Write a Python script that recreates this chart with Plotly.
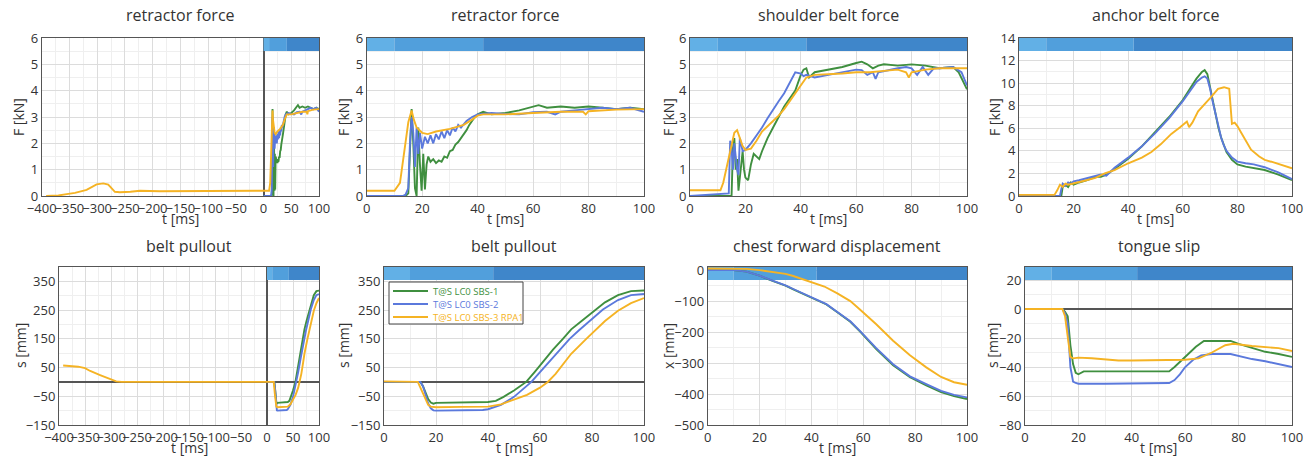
import plotly.graph_objects as go

# ---------------- data ----------------
# retractor force [kN] (0..100 ms)
ret_t_g = [0, 14, 15, 15.6, 16.2, 16.8, 17.4, 18.0, 18.6, 19.2,
           19.8, 20.4, 21.0, 21.6, 22.2, 23, 24, 25, 26, 27,
           28, 29, 30, 31, 32, 33, 34, 35, 36, 37,
           38, 39, 40, 42, 45, 50, 55, 60, 62, 65,
           70, 75, 80, 85, 90, 95, 100]
ret_f_g = [0, 0, 0.1, 1.8, 3.3, 2.0, 0.3, 0.0, 2.6, 1.2,
           0.2, 1.6, 0.25, 1.2, 1.5, 1.3, 1.4, 1.25, 1.35, 1.3,
           1.5, 1.45, 1.7, 1.75, 1.95, 2.05, 2.2, 2.35, 2.5, 2.7,
           2.85, 3.0, 3.1, 3.2, 3.1, 3.15, 3.25, 3.4, 3.45, 3.35,
           3.4, 3.35, 3.4, 3.35, 3.3, 3.35, 3.3]
ret_t_b = [0, 13, 14, 15, 15.6, 16.2, 16.8, 17.4, 18.0, 18.6,
           19.2, 20, 21, 22, 23, 24, 25, 26, 27, 28,
           29, 30, 31, 32, 33, 34, 36, 38, 40, 45,
           50, 55, 60, 65, 68, 70, 75, 80, 85, 90,
           95, 100]
ret_f_b = [0, 0, 0.05, 0.3, 2.0, 3.0, 2.4, 1.1, 2.6, 1.6,
           2.4, 1.8, 2.25, 2.0, 2.3, 2.0, 2.35, 2.15, 2.45, 2.2,
           2.5, 2.3, 2.6, 2.45, 2.7, 2.6, 2.85, 3.0, 3.1, 3.15,
           3.12, 3.1, 3.18, 3.2, 3.1, 3.2, 3.25, 3.3, 3.35, 3.3,
           3.35, 3.2]
ret_t_y = [0, 10, 12, 14, 15, 16.2, 17, 18, 20, 22,
           25, 30, 35, 38, 40, 42, 50, 60, 70, 78,
           79, 80, 90, 100]
ret_f_y = [0.2, 0.2, 0.5, 2.0, 2.8, 3.25, 2.9, 2.6, 2.4, 2.35,
           2.45, 2.55, 2.7, 2.9, 3.05, 3.1, 3.1, 3.15, 3.2, 3.2,
           3.1, 3.22, 3.28, 3.3]
# pre-crash part of the RPA1 retractor force (-400..0 ms)
ret_pre_t_y = [-392, -370, -355, -340, -319, -301, -289, -280, -268, -259,
               -240, -223, -187, -150, -100, -50, -1]
ret_pre_f_y = [0, 0.02, 0.07, 0.12, 0.23, 0.44, 0.48, 0.43, 0.16, 0.14,
               0.16, 0.2, 0.18, 0.18, 0.18, 0.18, 0.2]

# shoulder belt force [kN]
sh_t_g = [0, 15, 15.5, 16, 16.5, 17, 17.5, 18, 19, 19.5,
          20, 21, 22, 23, 24, 25, 26, 28, 30, 32,
          34, 36, 38, 40, 41, 42, 43, 45, 50, 55,
          60, 62, 64, 66, 68, 70, 75, 80, 85, 90,
          95, 97, 100]
sh_f_g = [0, 0, 1.8, 2.2, 1.0, 1.4, 0.2, 0.8, 1.7, 1.0,
          0.7, 0.6, 1.2, 1.6, 1.5, 1.4, 1.7, 2.2, 2.6, 3.0,
          3.4, 3.7, 4.0, 4.6, 4.8, 4.85, 4.5, 4.7, 4.8, 4.9,
          5.05, 5.1, 5.0, 4.85, 4.95, 5.0, 4.95, 5.0, 4.95, 4.85,
          4.9, 4.7, 4.05]
sh_t_b = [0, 14, 14.5, 15, 15.5, 16, 17, 17.5, 18, 19,
          20, 22, 24, 26, 28, 30, 32, 34, 36, 38,
          40, 41, 42, 45, 50, 55, 60, 62, 64, 66,
          67, 68, 70, 75, 78, 80, 82, 84, 86, 88,
          90, 95, 98, 100]
sh_f_b = [0, 0.1, 2.1, 1.8, 1.0, 2.0, 1.0, 0.8, 2.2, 1.7,
          1.75, 2.0, 2.3, 2.6, 2.95, 3.3, 3.6, 3.9, 4.3, 4.7,
          4.65, 4.55, 4.6, 4.5, 4.6, 4.7, 4.8, 4.78, 4.6, 4.7,
          4.45, 4.7, 4.75, 4.85, 4.9, 4.85, 4.6, 4.9, 4.6, 4.85,
          4.85, 4.9, 4.7, 4.2]
sh_t_y = [0, 11, 12, 14, 15, 16, 17, 18, 19, 20,
          22, 24, 26, 28, 30, 32, 34, 36, 38, 40,
          42, 45, 50, 55, 60, 65, 70, 75, 78, 79,
          80, 85, 90, 95, 100]
sh_f_y = [0.22, 0.22, 0.5, 1.5, 2.0, 2.4, 2.5, 2.2, 1.9, 1.75,
          1.8, 2.1, 2.45, 2.65, 2.85, 3.05, 3.3, 3.6, 3.9, 4.2,
          4.5, 4.6, 4.62, 4.65, 4.7, 4.7, 4.75, 4.8, 4.7, 4.5,
          4.7, 4.8, 4.85, 4.85, 4.85]

# anchor belt force [kN]
an_t_g = [0, 15.5, 16, 17, 18, 19, 20, 22, 25, 28,
          30, 32, 35, 40, 45, 50, 55, 60, 63, 65,
          67, 68, 69, 70, 71, 72, 73, 74, 75, 76,
          78, 80, 83, 86, 90, 95, 100]
an_f_g = [0, 0, 0.8, 1.0, 0.8, 1.2, 1.0, 1.2, 1.4, 1.7,
          1.7, 1.9, 2.4, 3.3, 4.4, 5.7, 7.0, 8.5, 9.6, 10.4,
          11.0, 11.15, 10.8, 9.6, 8.3, 7.2, 6.1, 5.2, 4.5, 3.9,
          3.2, 2.8, 2.6, 2.5, 2.3, 1.9, 1.4]
an_t_b = [0, 15, 15.5, 16, 17, 18, 19, 20, 22, 25,
          28, 30, 32, 35, 40, 45, 50, 55, 60, 63,
          65, 67, 68, 69, 70, 71, 72, 73, 74, 75,
          76, 78, 80, 83, 86, 90, 95, 100]
an_f_b = [0, 0, 0.6, 1.1, 0.9, 1.2, 1.1, 1.3, 1.4, 1.6,
          1.8, 1.9, 1.8, 2.5, 3.4, 4.4, 5.6, 6.9, 8.4, 9.4,
          10.1, 10.5, 10.6, 10.4, 9.5, 8.3, 7.2, 6.1, 5.2, 4.5,
          4.0, 3.4, 3.05, 2.9, 2.8, 2.55, 2.1, 1.5]
an_t_y = [0, 13, 14, 15, 16, 17, 18, 20, 24, 28,
          31.4, 35, 40, 45, 48.5, 52, 55.8, 59, 61.5, 62.3,
          63.5, 65.6, 68, 70.5, 72.9, 75.1, 77, 77.4, 78, 79,
          80, 81.4, 83, 85, 88, 90, 93, 96, 100]
an_f_y = [0.1, 0.1, 0.5, 1.0, 0.8, 1.1, 1.0, 1.1, 1.35, 1.6,
          2.0, 2.3, 2.9, 3.4, 3.9, 4.6, 5.5, 6.1, 6.6, 6.1,
          6.5, 7.5, 8.1, 8.8, 9.5, 9.64, 9.5, 8.2, 6.4, 6.5,
          6.2, 5.6, 4.9, 4.1, 3.5, 3.2, 3.0, 2.75, 2.45]

# belt pullout [mm] (0..100 ms)
po_t_g = [0, 14, 15, 16, 17, 18, 19, 20, 25, 30,
          35, 40, 43, 46, 50, 54.7, 58, 62, 65, 68.8,
          72, 76, 81.7, 85, 90, 95, 100]
po_s_g = [0, 0, -15, -40, -60, -72, -76, -73, -72, -72,
          -71, -70, -66, -52, -30, 0, 35, 80, 112, 150,
          183, 212, 252, 277, 302, 316, 318]
po_t_b = [0, 14, 15, 16, 17, 18, 19, 20, 30, 38,
          40, 45, 50, 56.7, 60, 65, 71.4, 75, 80, 84.2,
          90, 95, 100]
po_s_b = [0, 0, -15, -45, -75, -92, -99, -100, -100, -98,
          -95, -80, -52, 0, 34, 85, 150, 180, 219, 252,
          285, 302, 306]
po_t_y = [0, 12, 13, 15, 17, 18, 20, 30, 40, 45,
          50, 55, 60, 63, 66, 69, 72, 77.8, 80, 85,
          90, 95, 100]
po_s_y = [2, 2, 0, -40, -80, -86, -88, -87, -86, -78,
          -62, -45, -20, 0, 28, 62, 98, 150, 168, 212,
          248, 274, 292]
# pre-crash part of the RPA1 belt pullout (-400..0 ms)
po_pre_t_y = [-392, -363, -350, -340, -321, -310, -300, -290, -280, -150, -1]
po_pre_s_y = [57, 53, 48, 38, 24, 16, 8, 2, 0, 0, 1]

# chest forward displacement [mm]
ch_t_gb = [0, 10, 15, 20, 25, 30, 33, 40, 45.8, 50,
           55, 58.7, 65, 71.5, 78, 84.3, 90, 95, 100]
ch_x_g = [0, 0, -5, -18, -35, -50, -62, -88, -111, -136,
          -167, -198, -255, -307, -346, -372, -394, -407, -416]
ch_x_b = [0, 0, -5, -18, -34, -49, -61, -87, -110, -135,
          -165, -196, -252, -304, -343, -368, -390, -403, -411]
ch_t_y = [0, 15, 20, 25, 30, 33, 40, 45, 50, 55,
          58.7, 65, 71.5, 78, 84.3, 90, 95, 100]
ch_x_y = [5, 4, 0, -5, -12, -19, -40, -53, -75, -100,
          -127, -175, -228, -275, -314, -345, -362, -370]

# tongue slip [mm]
tg_t_g = [0, 14, 15, 16, 17, 18, 19, 20, 22, 25,
          30, 40, 50, 54, 56, 60, 64, 67, 77, 80,
          85, 90, 95, 100]
tg_s_g = [0, 0, -2, -5, -25, -38, -44, -45, -43, -43,
          -43.5, -43.5, -43.5, -43, -40, -33, -26, -22, -22, -24,
          -27, -29.5, -31, -33]
tg_t_b = [0, 14, 15, 16, 17, 18, 19, 20, 30, 40,
          50, 54, 56, 58, 60, 63, 66, 70, 77, 80,
          85, 90, 95, 100]
tg_s_b = [0, 0, -3, -10, -40, -50, -51, -51.5, -51.5, -51.5,
          -51.5, -51, -49, -45, -40, -35, -32, -31, -31, -32.5,
          -34.5, -36, -38, -40]
tg_t_y = [0, 14, 15, 16, 17, 18, 20, 25, 30, 35,
          40, 50, 60, 65, 70, 75, 78, 85, 90, 95,
          100]
tg_s_y = [0, 0, -5, -20, -33, -34, -33.5, -34, -35, -35.5,
          -35.5, -35.5, -35, -34, -30, -25, -24, -25.5, -26, -27,
          -29]

# crash phase band along the top of each plot: (start, end) in ms
phase_bounds = [(0, 10), (10, 42), (42, 100)]
phase_colors = ["#62b0e6", "#519fdc", "#3f86ca"]

series_names = ["T@S LC0 SBS-1", "T@S LC0 SBS-2", "T@S LC0 SBS-3 RPA1"]
series_colors = ["#3f8f3f", "#5b79dc", "#f5b324"]

# ---------------- layout helpers ----------------
W, H = 1314, 462
FONT = "Open Sans"
TXT = "#333333"
GRID = "#dcdcdc"
MINOR = "#efefef"
FRAME = "#555555"

# plot areas in pixels: left, right, top, bottom
boxes = [
    (41.7, 319, 38, 196), (366.7, 644, 38, 196), (690, 967, 38, 196), (1019, 1292, 38, 196),
    (59, 319, 267, 425), (384, 644, 267, 425), (707.7, 967, 267, 425), (1025, 1292, 267, 425),
]
titles = ["retractor force", "retractor force", "shoulder belt force", "anchor belt force",
          "belt pullout", "belt pullout", "chest forward displacement", "tongue slip"]
ytitles = ["F [kN]", "F [kN]", "F [kN]", "F [kN]", "s [mm]", "s [mm]", "x [mm]", "s [mm]"]
ytitle_x = [18, 343, 668, 994, 20, 343, 668, 992]
# y axis: range, tick0, dtick, minor dtick, show zero line
yaxes = [
    ([0, 6], 0, 1, 0.5, False), ([0, 6], 0, 1, 0.5, False),
    ([0, 6], 0, 1, 0.5, False), ([0, 14], 0, 2, 1, False),
    ([-150, 400], -150, 100, 50, True), ([-150, 400], -150, 100, 50, True),
    ([-500, 10], -500, 100, 50, False), ([-80, 29], -80, 20, 10, True),
]
long_time = [True, False, False, False, True, False, False, False]

curves = [
    [(ret_t_g, ret_f_g), (ret_t_b, ret_f_b), (ret_pre_t_y + ret_t_y, ret_pre_f_y + ret_f_y)],
    [(ret_t_g, ret_f_g), (ret_t_b, ret_f_b), (ret_t_y, ret_f_y)],
    [(sh_t_g, sh_f_g), (sh_t_b, sh_f_b), (sh_t_y, sh_f_y)],
    [(an_t_g, an_f_g), (an_t_b, an_f_b), (an_t_y, an_f_y)],
    [(po_t_g, po_s_g), (po_t_b, po_s_b), (po_pre_t_y + po_t_y, po_pre_s_y + po_s_y)],
    [(po_t_g, po_s_g), (po_t_b, po_s_b), (po_t_y, po_s_y)],
    [(ch_t_gb, ch_x_g), (ch_t_gb, ch_x_b), (ch_t_y, ch_x_y)],
    [(tg_t_g, tg_s_g), (tg_t_b, tg_s_b), (tg_t_y, tg_s_y)],
]

fig = go.Figure()
layout = {}
annotations = []
shapes = []
BAND_PX = 13


def px_x(v):
    return v / W


def px_y(v):
    return 1 - v / H


for i, (box, title) in enumerate(zip(boxes, titles)):
    n = i + 1
    sx = "" if n == 1 else str(n)
    l, r, t, b = box
    if long_time[i]:
        xr, xdt, xminor = [-400, 100], 50, 25
    else:
        xr, xdt, xminor = [0, 100], 20, 10
    yr, yt0, ydt, yminor, yzero = yaxes[i]

    common = dict(
        showline=True, mirror=True, linecolor=FRAME, linewidth=1,
        gridcolor=GRID, gridwidth=1, ticks="", automargin=False,
        tickfont=dict(family=FONT, size=13, color=TXT), tickangle=0,
        zerolinecolor=FRAME, zerolinewidth=1.5,
    )
    layout["xaxis" + sx] = dict(
        common, domain=[px_x(l), px_x(r)], range=xr, tick0=xr[0], dtick=xdt,
        minor=dict(dtick=xminor, showgrid=True, gridcolor=MINOR),
        zeroline=long_time[i], anchor="y" + sx,
    )
    layout["yaxis" + sx] = dict(
        common, domain=[px_y(b), px_y(t)], range=yr, tick0=yt0, dtick=ydt,
        minor=dict(dtick=yminor, showgrid=True, gridcolor=MINOR),
        zeroline=yzero, anchor="x" + sx,
    )

    # panel title and axis titles
    annotations.append(dict(text=title, x=px_x((l + r) / 2), y=px_y(15 if t < 100 else 246),
                            xref="paper", yref="paper", showarrow=False, xanchor="center", yanchor="middle",
                            font=dict(family=FONT, size=16, color=TXT)))
    annotations.append(dict(text="t [ms]", x=px_x((l + r) / 2), y=px_y(b + 22),
                            xref="paper", yref="paper", showarrow=False, xanchor="center", yanchor="middle",
                            font=dict(family=FONT, size=14, color=TXT)))
    annotations.append(dict(text=ytitles[i], x=px_x(ytitle_x[i]), y=px_y((t + b) / 2), textangle=-90,
                            xref="paper", yref="paper", showarrow=False, xanchor="center", yanchor="middle",
                            font=dict(family=FONT, size=14, color=TXT)))

    # crash phase band: filled areas in the top strip of the plot, drawn above the grid
    y_hi = yr[1]
    y_lo = yr[1] - (yr[1] - yr[0]) * BAND_PX / (b - t)
    for (p0, p1), pc in zip(phase_bounds, phase_colors):
        fig.add_trace(go.Scatter(
            x=[p0, p1, p1, p0, p0], y=[y_lo, y_lo, y_hi, y_hi, y_lo],
            mode="lines", fill="toself", fillcolor=pc, line=dict(width=0, color=pc),
            xaxis="x" + sx, yaxis="y" + sx, hoverinfo="skip", showlegend=False,
        ))

    # curves
    for k, (tx, vy) in enumerate(curves[i]):
        fig.add_trace(go.Scatter(
            x=tx, y=vy, mode="lines", xaxis="x" + sx, yaxis="y" + sx,
            line=dict(color=series_colors[k], width=1.9),
            name=series_names[k], showlegend=False,
        ))

# legend box inside the second belt pullout plot
LEG_L, LEG_R, LEG_T, LEG_B = 389, 523, 282, 324
shapes.append(dict(type="rect", xref="paper", yref="paper",
                   x0=px_x(LEG_L), x1=px_x(LEG_R), y0=px_y(LEG_B), y1=px_y(LEG_T),
                   fillcolor="white", line=dict(color="#444444", width=1), layer="above"))
for k, (nm, col) in enumerate(zip(series_names, series_colors)):
    row_y = 291 + 13 * k
    shapes.append(dict(type="line", xref="paper", yref="paper",
                       x0=px_x(393), x1=px_x(428), y0=px_y(row_y), y1=px_y(row_y),
                       line=dict(color=col, width=1.9), layer="above"))
    annotations.append(dict(text=nm, x=px_x(431), y=px_y(row_y), xref="paper", yref="paper",
                            showarrow=False, xanchor="left", yanchor="middle",
                            font=dict(family=FONT, size=9.5, color=col)))

fig.update_layout(
    **layout,
    width=W, height=H,
    margin=dict(l=0, r=0, t=0, b=0),
    paper_bgcolor="white", plot_bgcolor="white",
    font=dict(family=FONT, color=TXT),
    annotations=annotations, shapes=shapes,
    showlegend=False,
)

fig.write_html("out.html")
